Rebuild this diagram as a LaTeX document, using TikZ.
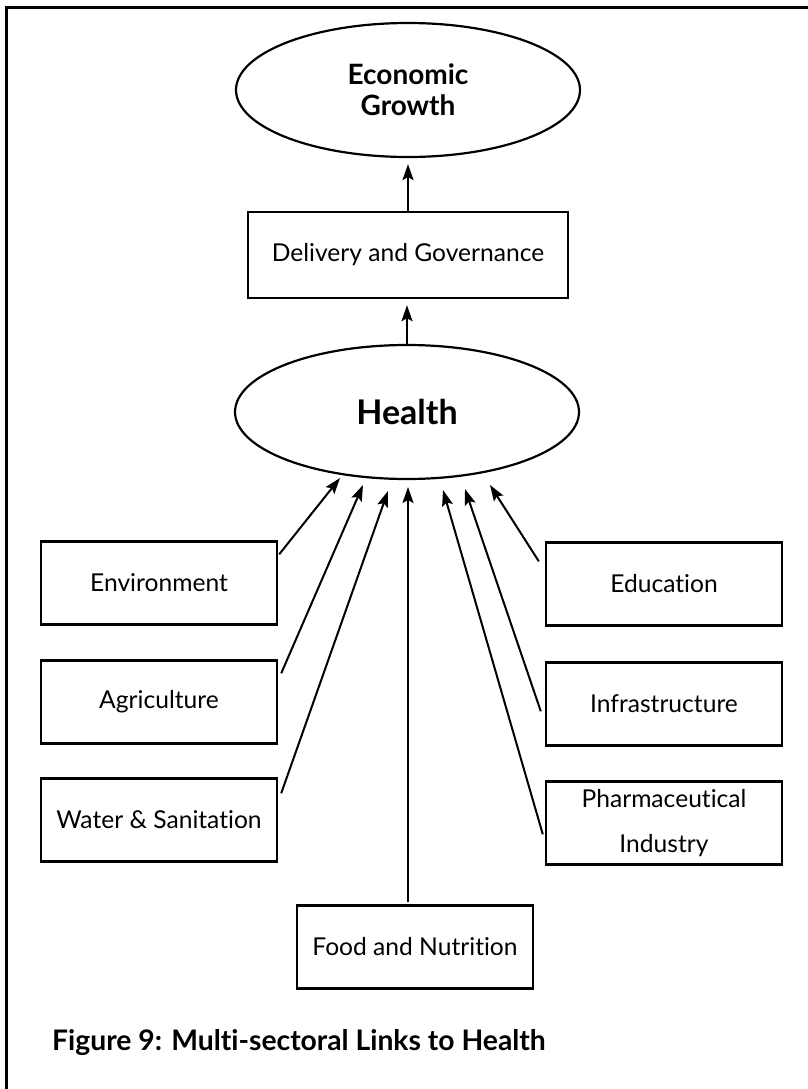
\documentclass[tikz,border=0pt]{standalone}
\usepackage{fontspec}
\setmainfont[Ligatures={NoCommon,NoContextual}]{Lato}
\usetikzlibrary{shapes.geometric,arrows.meta,calc}
\begin{document}
\begin{tikzpicture}[x=1pt,y=-1pt,
  frame/.style={line width=3pt},
  oval/.style={draw,ellipse,line width=2.2pt,minimum width=344pt,minimum height=134pt,inner sep=0pt,align=center},
  sector/.style={draw,rectangle,line width=2.4pt,minimum width=236pt,minimum height=83pt,inner sep=0pt,align=center,font=\fontsize{24.6}{45}\selectfont},
  link/.style={line width=2pt,-{Stealth[length=16pt,width=11pt,inset=3pt]}}]
\useasboundingbox (0,0) rectangle (808,1089);
\draw[frame] (6,1089) -- (6,8) -- (808,8);
% main nodes
\node[oval,font=\fontsize{28}{31}\bfseries\selectfont] (eg) at (408,90) {Economic\\Growth};
\node[sector,minimum width=320pt,minimum height=86pt] (dg) at (408,255) {Delivery and Governance};
\node[oval,font=\fontsize{34}{36}\bfseries\selectfont] (health) at (407,412) {Health};
% sectors
\node[sector] (env) at (159,583) {Environment};
\node[sector] (agr) at (159,702) {Agriculture};
\node[sector] (wat) at (159,820) {Water \& Sanitation};
\node[sector] (food) at (415,947) {Food and Nutrition};
\node[sector] (edu) at (664,584) {Education};
\node[sector] (inf) at (664,704) {Infrastructure};
\node[sector] (pha) at (664,823) {Pharmaceutical\\Industry};
% arrows up
\draw[link] (dg.north) -- ($(eg.south)+(0,6)$);
\draw[link] (health.north) -- ($(health.north |- dg.south)+(0,6)$);
% tips near Health
\coordinate (h1) at ($(health.center)+(-67,66)$);
\coordinate (h2) at ($(health.center)+(-44,73)$);
\coordinate (h3) at ($(health.center)+(-19,79)$);
\coordinate (h4) at ($(health.center)+(1,75)$);
\coordinate (h5) at ($(health.center)+(36,78)$);
\coordinate (h6) at ($(health.center)+(58,77)$);
\coordinate (h7) at ($(health.center)+(83,73)$);
\draw[link] ($(env.north east)+(1,14)$) -- (h1);
\draw[link] ($(agr.north east)+(3,14)$) -- (h2);
\draw[link] ($(wat.north east)+(3,16)$) -- (h3);
\draw[link] (food.north -| h4) ++(0,-2) -- (h4);
\draw[link] ($(pha.north west)+(-2,54)$) -- (h5);
\draw[link] ($(inf.north west)+(-4,50)$) -- (h6);
\draw[link] ($(edu.north west)+(-6,20)$) -- (h7);
% caption
\node[anchor=west,font=\fontsize{28.3}{31}\bfseries\selectfont,inner sep=0pt] (cap) at (52,1043) {Figure 9: Multi-sectoral Links to Health};
\end{tikzpicture}
\end{document}
